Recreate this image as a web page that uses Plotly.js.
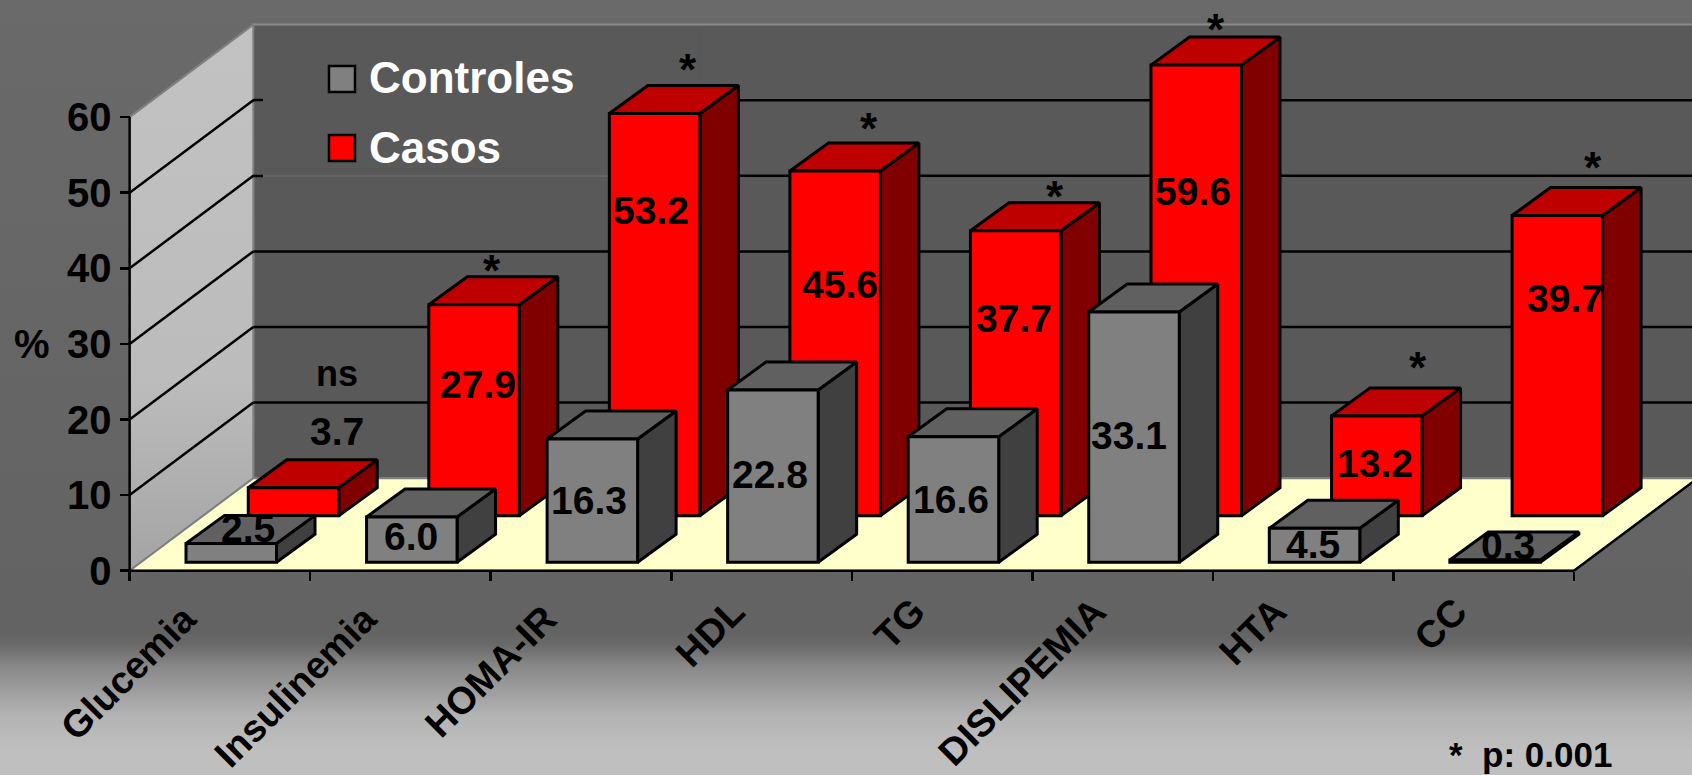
<!DOCTYPE html>
<html>
<head>
<meta charset="utf-8">
<script src="https://cdn.plot.ly/plotly-3.0.1.min.js"></script>
<style>
  html, body { margin: 0; padding: 0; width: 1692px; height: 775px; overflow: hidden; }
  body { background: linear-gradient(180deg, #6a6a6a 0px, #666666 300px, #636363 632px, #6a6a6a 645px, #8a8a8a 668px, #b4b4b4 717px, #bfbfbf 750px, #bfbfbf 775px); }
  #chart { width: 1692px; height: 775px; }
</style>
</head>
<body>
<div id="chart"></div>
<script>
// Prevalence (%) of each metabolic alteration, by group
const categories = ["Glucemia", "Insulinemia", "HOMA-IR", "HDL", "TG", "DISLIPEMIA", "HTA", "CC"];
const controles = [2.5, 6.0, 16.3, 22.8, 16.6, 33.1, 4.5, 0.3];
const casos = [3.7, 27.9, 53.2, 45.6, 37.7, 59.6, 13.2, 39.7];
const yTicks = [0, 10, 20, 30, 40, 50, 60];
const significance = ["ns", "*", "*", "*", "*", "*", "*", "*"];

// Hand placement of the value labels and significance marks, in pixels from each bar's top centre
const controlesLabelShift = [[17, -14.5], [-1, 20], [-3, 61], [-3, 85], [-2, 63], [-5, 123], [-2, 16], [13, -15]];
const casosLabelShift = [[43.5, -56], [4, 80], [-3.5, 97], [5, 114], [-1.5, 88], [-3, 126], [-1.5, 48], [8, 83]];
const markShift = [[43.5, -114], [18, -34], [33.5, -44], [34, -42], [39.5, -34], [20, -36], [41.5, -48], [36, -48]];
// The first three category labels sit one space further down their slant
const labelInset = [1, 1, 1, 0, 0, 0, 0, 0];

// Pixel geometry of the page-filling plot area
const W = 1692, H = 775;
const originX = 129.6, originY = 570.7;
const pxPerCat = 180.55, pxPerUnit = 7.56;
const px = v => (v - originX) / pxPerCat;
const py = v => (originY - v) / pxPerUnit;

// Oblique projection: wall depth and bar depth, in axis units
const wallDX = 123.7 / pxPerCat, wallDY = 92.5 / pxPerUnit;
const barDX = 38.5 / pxPerCat, barDY = 28 / pxPerUnit;
const barWidth = 90.5 / pxPerCat;
const controlesCentre = 0.563, controlesBase = 8.4 / pxPerUnit;
const casosCentre = 0.9078, casosBase = 55 / pxPerUnit;

function polygons(list) {
  const x = [], y = [];
  list.forEach(poly => {
    poly.forEach(p => { x.push(p[0]); y.push(p[1]); });
    x.push(poly[0][0]); y.push(poly[0][1]);
    x.push(null); y.push(null);
  });
  return { x, y };
}

function filled(list, fill, lineColor, lineWidth, zorder, extra) {
  const p = polygons(list);
  return Object.assign({
    type: "scatter", mode: "lines", x: p.x, y: p.y, fill: "toself", fillcolor: fill,
    line: { color: lineColor, width: lineWidth }, hoverinfo: "skip", showlegend: false, zorder
  }, extra || {});
}

function stroke(x, y, color, width, zorder) {
  return { type: "scatter", mode: "lines", x, y, line: { color, width }, hoverinfo: "skip", showlegend: false, zorder };
}

// Front face from a bar trace, top and side faces projected from the same values
function barSeries(name, values, centre, base, colors, z) {
  const xl = i => i + centre - barWidth / 2;
  const xr = i => i + centre + barWidth / 2;
  const tops = values.map((v, i) => [
    [xl(i), base + v], [xr(i), base + v], [xr(i) + barDX, base + v + barDY], [xl(i) + barDX, base + v + barDY]
  ]);
  const sides = values.map((v, i) => [
    [xr(i), base], [xr(i), base + v], [xr(i) + barDX, base + v + barDY], [xr(i) + barDX, base + barDY]
  ]);
  return [
    filled(sides, colors.side, "#000", 3, z),
    filled(tops, colors.top, "#000", 3, z),
    {
      type: "bar", name, x: values.map((v, i) => i + centre), y: values, base, width: barWidth,
      marker: { color: colors.front, line: { color: "#000", width: 3 } },
      hoverinfo: "skip", showlegend: false, zorder: z + 1
    }
  ];
}

const catIndex = categories.map((c, i) => i);
const rightEnd = categories.length;
const farRight = px(W) + 1;

const gridBack = [], gridBackY = [], gridSideX = [], gridSideY = [];
yTicks.filter(t => t > 0 && t < 60).forEach(t => {
  gridBack.push(wallDX, farRight, null); gridBackY.push(t + wallDY, t + wallDY, null);
  gridSideX.push(0, wallDX, null); gridSideY.push(t, t + wallDY, null);
});

const traces = [
  // back wall
  filled([[[wallDX, wallDY], [wallDX, 60 + wallDY], [farRight, 60 + wallDY], [farRight, wallDY]]], "#595959", "#8a8a8a", 2, 0),
  // side wall
  filled([[[0, 0], [0, 60], [wallDX, 60 + wallDY], [wallDX, wallDY]]], "#c0c0c0", "#808080", 2, 0, {
    fillgradient: { type: "vertical", colorscale: [[0, "#a4a4a4"], [0.35, "#bcbcbc"], [1, "#c2c2c2"]] }
  }),
  // floor
  filled([[[0, 0], [rightEnd, 0], [rightEnd + wallDX, wallDY], [wallDX, wallDY]]], "#ffffcc", "#808080", 2, 0),
  stroke([rightEnd, rightEnd + wallDX], [0, wallDY], "#000", 2.5, 0),
  stroke(gridBack, gridBackY, "#000", 2.5, 0),
  stroke(gridSideX, gridSideY, "#000", 2.5, 0),
  // panel behind the key, then the faint rule left along its lower edge
  filled([[[px(255), py(30)], [px(255), py(178)], [px(700), py(178)], [px(700), py(30)]]], "#595959", "#595959", 1, 1),
  stroke([px(255), px(700)], [py(176), py(176)], "#707070", 1, 1),
  stroke([px(253.3), px(263)], [py(100), py(100)], "#000", 2.5, 1),
  stroke([px(253.3), px(263)], [py(176), py(176)], "#000", 2.5, 1),
  ...barSeries("Casos", casos, casosCentre, casosBase, { front: "#ff0000", top: "#bf0000", side: "#800000" }, 2),
  ...barSeries("Controles", controles, controlesCentre, controlesBase, { front: "#808080", top: "#606060", side: "#404040" }, 4),
  // axis lines
  stroke([0, rightEnd], [0, 0], "#000", 2.5, 6),
  stroke([0, 0], [0, 60], "#000", 2.5, 6)
];

const labelFont = { family: "Liberation Sans, Arial, sans-serif", size: 39, color: "#000", weight: 700 };
const annotations = [];

function valueLabels(values, centre, base, shifts) {
  values.forEach((v, i) => annotations.push({
    x: i + centre, y: base + v, xref: "x", yref: "y", text: "<b>" + v.toFixed(1) + "</b>",
    showarrow: false, xanchor: "center", yanchor: "middle",
    xshift: shifts[i][0], yshift: -shifts[i][1], font: labelFont
  }));
}
valueLabels(controles, controlesCentre, controlesBase, controlesLabelShift);
valueLabels(casos, casosCentre, casosBase, casosLabelShift);

significance.forEach((s, i) => annotations.push({
  x: i + casosCentre, y: casosBase + casos[i], xref: "x", yref: "y", text: "<b>" + s + "</b>",
  showarrow: false, xanchor: "center", yanchor: "middle",
  xshift: markShift[i][0], yshift: -markShift[i][1],
  font: { family: labelFont.family, size: s === "*" ? 44 : 36, color: "#000" }
}));

const pageText = (text, x, y, size, color, anchor) => ({
  xref: "paper", yref: "paper", x: x / W, y: 1 - y / H, text: "<b>" + text + "</b>", showarrow: false,
  xanchor: anchor || "left", yanchor: "middle", font: { family: labelFont.family, size, color }
});
annotations.push(pageText("%", 32, 344, 40, "#000", "center"));
annotations.push(pageText("Controles", 367, 78, 44, "#fff"));
annotations.push(pageText("Casos", 367, 147, 44, "#fff"));
annotations.push(pageText("*&nbsp;&nbsp;p: 0.001", 1447, 754, 35, "#000"));

const keyBox = (y0, y1, fill) => ({
  type: "rect", xref: "paper", yref: "paper", x0: 329 / W, x1: 355 / W, y0: 1 - y1 / H, y1: 1 - y0 / H,
  fillcolor: fill, line: { color: "#000", width: 2.5 }, layer: "above"
});

const axisFont = { family: "Liberation Sans, Arial, sans-serif", size: 40, color: "#000", weight: 700 };

const layout = {
  width: W, height: H,
  margin: { l: 0, r: 0, t: 0, b: 0 },
  paper_bgcolor: "rgba(0,0,0,0)", plot_bgcolor: "rgba(0,0,0,0)",
  barmode: "overlay", showlegend: false,
  xaxis: {
    range: [px(0), px(W)], domain: [0, 1], anchor: "free", position: 1 - originY / H,
    showgrid: false, zeroline: false, showline: false,
    tickmode: "array", tickvals: catIndex.map(i => i + 0.5),
    ticktext: categories.map((c, i) => c + "\u00A0".repeat(labelInset[i])), tickangle: -45,
    ticks: "", ticklabelshift: -28, ticklabelstandoff: 10,
    tickfont: { family: axisFont.family, size: 38, color: "#000", weight: 700 },
    minor: {
      tickmode: "array", tickvals: [...catIndex, rightEnd], ticks: "outside", ticklen: 9, tickwidth: 2.5,
      tickcolor: "#000", showgrid: false
    }
  },
  yaxis: {
    range: [py(H), py(0)], domain: [0, 1], anchor: "free", position: originX / W,
    showgrid: false, zeroline: false, showline: false,
    tickmode: "array", tickvals: yTicks, ticks: "outside", ticklen: 10, tickwidth: 2.5, tickcolor: "#000",
    tickfont: axisFont
  },
  annotations,
  shapes: [keyBox(66, 92, "#808080"), keyBox(135, 161, "#ff0000")]
};

Plotly.newPlot("chart", traces, layout, { staticPlot: true, displayModeBar: false });
</script>
</body>
</html>
